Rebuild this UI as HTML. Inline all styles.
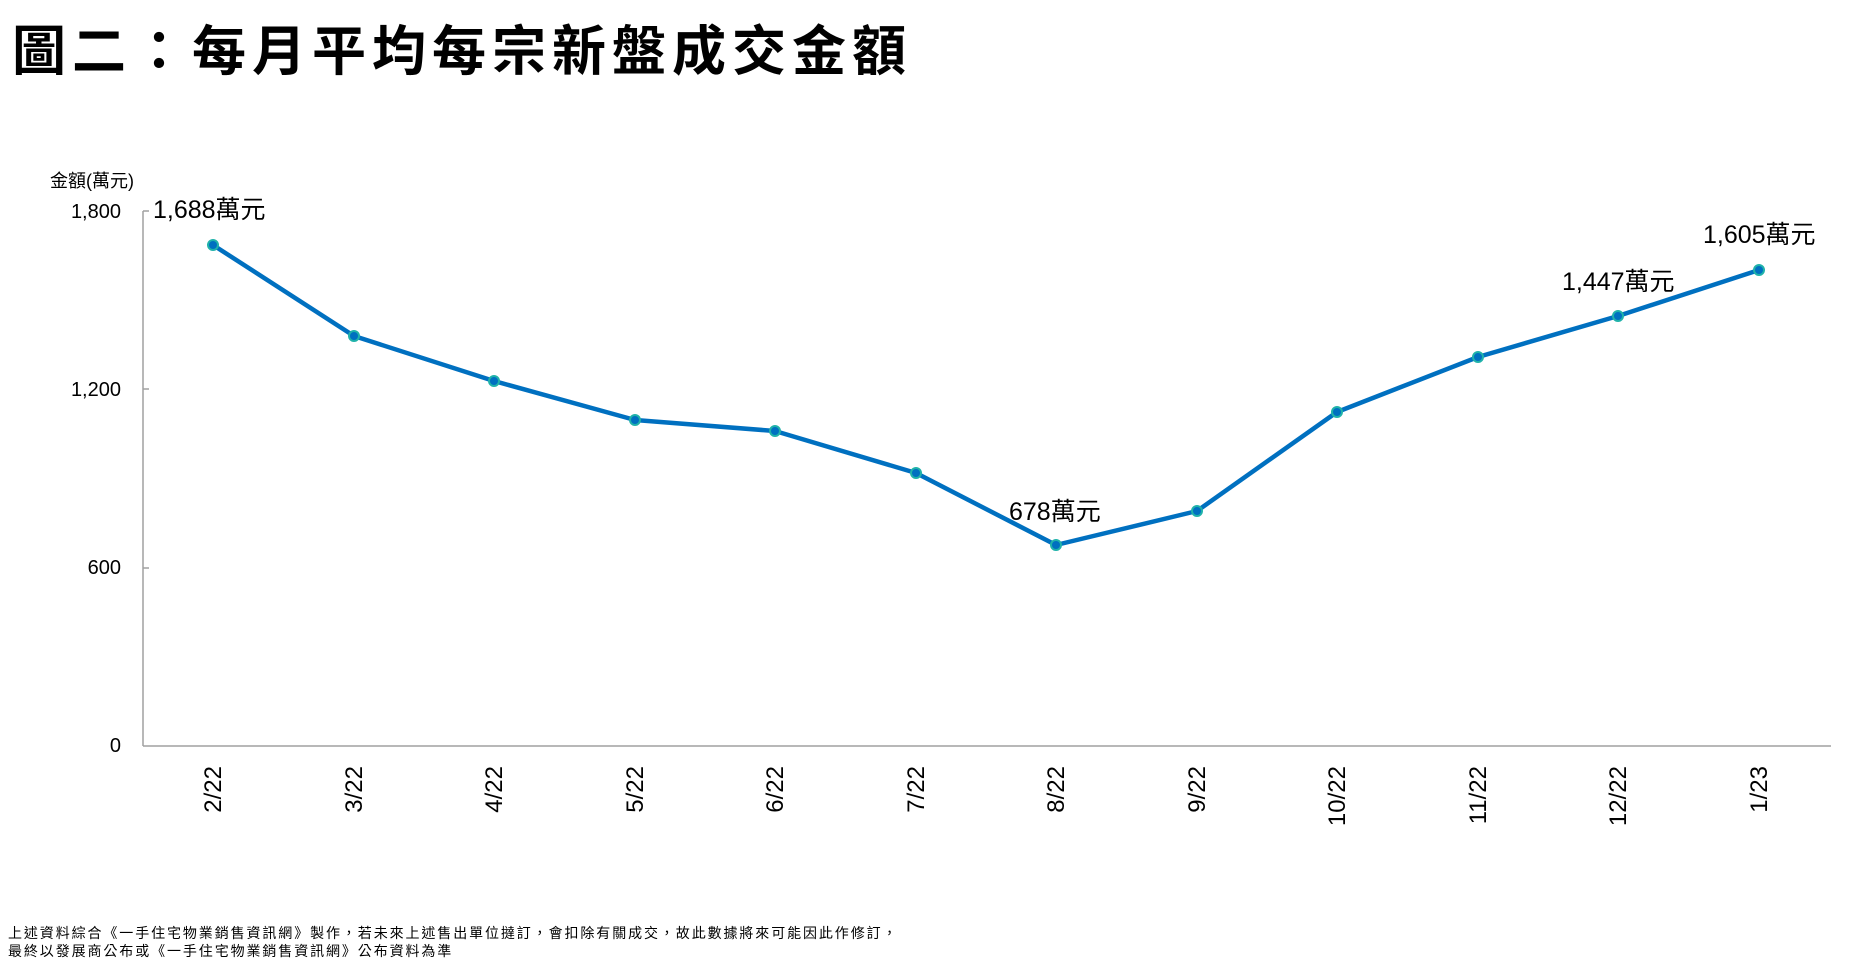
<!DOCTYPE html>
<html><head><meta charset="utf-8"><style>
html,body{margin:0;padding:0;background:#fff;}
svg{display:block;font-family:"Liberation Sans","Noto Sans CJK TC",sans-serif;}
</style></head><body>
<svg width="1850" height="969" viewBox="0 0 1850 969" xmlns="http://www.w3.org/2000/svg">
<text x="12" y="70" font-size="54" font-weight="bold" fill="#000" letter-spacing="6">圖二：每月平均每宗新盤成交金額</text>
<text x="50" y="187" font-size="18" fill="#000">金額(萬元)</text>
<g font-size="20" fill="#000" text-anchor="end">
<text x="121" y="218">1,800</text>
<text x="121" y="396">1,200</text>
<text x="121" y="574">600</text>
<text x="121" y="752">0</text>
</g>
<g stroke="#a0a0a0" stroke-width="1.5" fill="none">
<line x1="143" y1="211" x2="143" y2="746"/>
<line x1="143" y1="746" x2="1831" y2="746"/>
<line x1="143" y1="211" x2="149" y2="211"/>
<line x1="143" y1="389" x2="149" y2="389"/>
<line x1="143" y1="568" x2="149" y2="568"/>
</g>
<polyline fill="none" stroke="#0070c0" stroke-width="4.5" stroke-linejoin="round" points="213,245 354,336 494,381 635,420 775,431 916,473 1056,545 1197,511 1337,412 1478,357 1618,316 1759,270"/>
<g fill="#0070c0" stroke="#20b2aa" stroke-width="2">
<circle cx="213" cy="245" r="5"/><circle cx="354" cy="336" r="5"/><circle cx="494" cy="381" r="5"/><circle cx="635" cy="420" r="5"/><circle cx="775" cy="431" r="5"/><circle cx="916" cy="473" r="5"/><circle cx="1056" cy="545" r="5"/><circle cx="1197" cy="511" r="5"/><circle cx="1337" cy="412" r="5"/><circle cx="1478" cy="357" r="5"/><circle cx="1618" cy="316" r="5"/><circle cx="1759" cy="270" r="5"/>
</g>
<g font-size="25" fill="#000">
<text x="153" y="218">1,688萬元</text>
<text x="1009" y="520">678萬元</text>
<text x="1562" y="290">1,447萬元</text>
<text x="1703" y="243">1,605萬元</text>
</g>
<g font-size="24" fill="#000" text-anchor="end">
<text transform="translate(221,766) rotate(-90)">2/22</text>
<text transform="translate(362,766) rotate(-90)">3/22</text>
<text transform="translate(502,766) rotate(-90)">4/22</text>
<text transform="translate(643,766) rotate(-90)">5/22</text>
<text transform="translate(783,766) rotate(-90)">6/22</text>
<text transform="translate(924,766) rotate(-90)">7/22</text>
<text transform="translate(1064,766) rotate(-90)">8/22</text>
<text transform="translate(1205,766) rotate(-90)">9/22</text>
<text transform="translate(1345,766) rotate(-90)">10/22</text>
<text transform="translate(1486,766) rotate(-90)">11/22</text>
<text transform="translate(1626,766) rotate(-90)">12/22</text>
<text transform="translate(1767,766) rotate(-90)">1/23</text>
</g>
<g font-size="14" fill="#000" letter-spacing="1.9">
<text x="8" y="938">上述資料綜合《一手住宅物業銷售資訊網》製作，若未來上述售出單位撻訂，會扣除有關成交，故此數據將來可能因此作修訂，</text>
<text x="8" y="956">最終以發展商公布或《一手住宅物業銷售資訊網》公布資料為準</text>
</g>
</svg>
</body></html>
